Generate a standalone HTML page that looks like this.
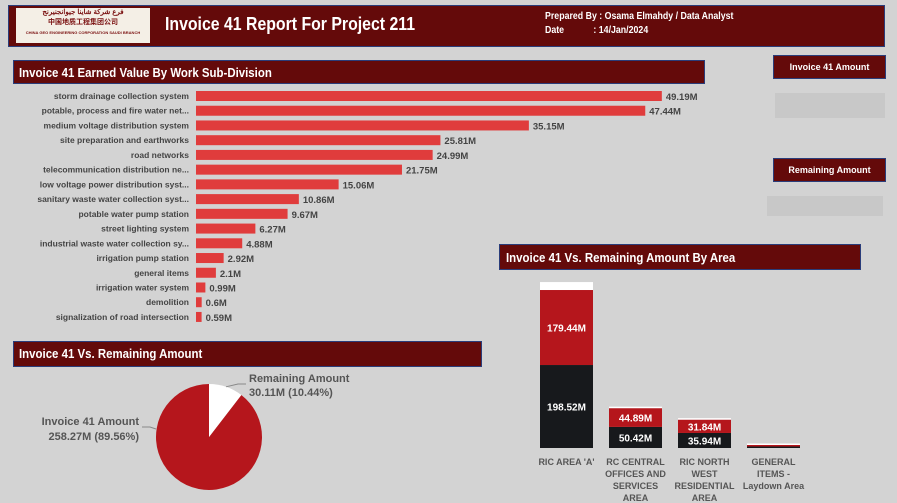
<!DOCTYPE html>
<html><head><meta charset="utf-8">
<style>
body{margin:0;width:897px;height:503px;background:#d3d3d3;font-family:"Liberation Sans","Noto Sans CJK SC",sans-serif;overflow:hidden;position:relative}
.box{position:absolute;background:#640a0a;border:1px solid #2a3d7a;color:#fff;font-weight:bold;box-sizing:border-box}
.nar{display:inline-block;transform:scaleX(0.88);transform-origin:left center;white-space:nowrap}
</style></head><body>
<div class="box" style="left:8px;top:5px;width:877px;height:42px;"></div>
<div style="position:absolute;left:16px;top:8px;width:134px;height:35px;background:#f4efe6;font-size:7px;color:#7a1010;text-align:center;line-height:10px;font-weight:bold;overflow:hidden">فرع شركة شاينا جيوانجنيرنج<br>中国地质工程集团公司<br><span style="font-size:4px;line-height:6px">CHINA GEO ENGINEERING CORPORATION SAUDI BRANCH</span></div>
<div style="position:absolute;left:165px;top:14px;color:#fff;font-size:18px;font-weight:bold"><span class="nar">Invoice 41 Report For Project 211</span></div>
<div style="position:absolute;left:545px;top:10px;color:#fff;font-size:10px;font-weight:bold;line-height:14px"><span class="nar">Prepared By : Osama Elmahdy /  Data Analyst</span><br><span class="nar">Date&nbsp;&nbsp;&nbsp;&nbsp;&nbsp;&nbsp;&nbsp;&nbsp;&nbsp;&nbsp;&nbsp;&nbsp;: 14/Jan/2024</span></div>
<div class="box" style="left:13px;top:60px;width:692px;height:24px;padding:4px 5px;font-size:13px"><span class="nar">Invoice 41 Earned Value By Work Sub-Division</span></div>
<div class="box" style="left:773px;top:55px;width:113px;height:24px;font-size:9px;text-align:center;line-height:22px">Invoice 41 Amount</div>
<div style="position:absolute;left:775px;top:93px;width:110px;height:25px;background:#c8c8c8"></div>
<div class="box" style="left:773px;top:158px;width:113px;height:24px;font-size:9px;text-align:center;line-height:22px">Remaining Amount</div>
<div style="position:absolute;left:767px;top:196px;width:116px;height:20px;background:#c8c8c8"></div>
<div class="box" style="left:13px;top:341px;width:469px;height:26px;padding:4px 5px;font-size:13px"><span class="nar">Invoice 41 Vs. Remaining Amount</span></div>
<div class="box" style="left:499px;top:244px;width:362px;height:26px;padding:5px 6px;font-size:13px"><span class="nar">Invoice 41 Vs. Remaining Amount By Area</span></div>
<svg id="svg" width="897" height="503" style="position:absolute;left:0;top:0" font-family="Liberation Sans, sans-serif"></svg>
<script>
const categories=["storm drainage collection system","potable, process and fire water net...","medium voltage distribution system","site preparation and earthworks","road networks","telecommunication distribution ne...","low voltage power distribution syst...","sanitary waste water collection syst...","potable water pump station","street lighting system","industrial waste water collection sy...","irrigation pump station","general items","irrigation water system","demolition","signalization of road intersection"];
const values=[49.19,47.44,35.15,25.81,24.99,21.75,15.06,10.86,9.67,6.27,4.88,2.92,2.1,0.99,0.6,0.59];
const pieLabels=["Invoice 41 Amount","Remaining Amount"];
const pieValues=[258.27,30.11];
const areas=[["RIC AREA 'A'"],["RC CENTRAL","OFFICES AND","SERVICES","AREA"],["RIC NORTH","WEST","RESIDENTIAL","AREA"],["GENERAL","ITEMS -","Laydown Area"]];
const invoiceByArea=[198.52,50.42,35.94,0.5];
const remainingByArea=[179.44,44.89,31.84,0.5];
const otherByArea=[19,3,2.5,0.5];
const NS="http://www.w3.org/2000/svg",svg=document.getElementById('svg');
function mk(t,a,txt){const e=document.createElementNS(NS,t);for(const k in a)e.setAttribute(k,a[k]);if(txt!=null)e.textContent=txt;svg.appendChild(e);return e;}
const x0=196,xs=v=>v*9.47,yb=i=>90+i*14.73;
categories.forEach((c,i)=>{
 const l=mk('text',{x:189,y:yb(i)+9,'text-anchor':'end','font-size':8.5,fill:'#444','font-weight':'bold'},c);
 
 
 const r=mk('rect',{x:x0,y:yb(i)+1,width:xs(values[i]),height:10,fill:'#e03c3c'});
 
 
 const v=mk('text',{x:x0+xs(values[i])+4,y:yb(i)+10,'font-size':9.5,fill:'#444','font-weight':'bold'},values[i]+'M');
 
 
});
const cx=209,cy=437,R=53,tot=pieValues[0]+pieValues[1];
const fr=pieValues[1]/tot,a=fr*2*Math.PI;
const ex=cx+R*Math.sin(a),ey=cy-R*Math.cos(a);
const s1=mk('path',{d:`M${cx},${cy} L${ex},${ey} A${R},${R} 0 1 1 ${cx},${cy-R} Z`,fill:'#b5161c'});


const s2=mk('path',{d:`M${cx},${cy} L${cx},${cy-R} A${R},${R} 0 0 1 ${ex},${ey} Z`,fill:'#fff'});


mk('polyline',{points:`${cx+R*Math.sin(a/2)},${cy-R*Math.cos(a/2)} 238,384 246,384`,stroke:'#888',fill:'none'});
mk('polyline',{points:`142,427 150,427 156,429`,stroke:'#888',fill:'none'});
const pct=v=>(v/tot*100).toFixed(2)+'%';
const t1=mk('text',{x:249,y:382,'font-size':11,fill:'#555','font-weight':'bold'},pieLabels[1]);


mk('text',{x:249,y:396,'font-size':11,fill:'#555','font-weight':'bold'},pieValues[1]+'M ('+pct(pieValues[1])+')');
const t2=mk('text',{x:139,y:425,'font-size':11,fill:'#555','font-weight':'bold','text-anchor':'end'},pieLabels[0]);


mk('text',{x:139,y:440,'font-size':11,fill:'#555','font-weight':'bold','text-anchor':'end'},pieValues[0]+'M ('+pct(pieValues[0])+')');
const base=448,ys=v=>Math.max(v*0.418,1.5),bx=i=>540+i*69,bw=53;
areas.forEach((lbls,i)=>{
 let y=base;
 const h1=ys(invoiceByArea[i]);y-=h1;
 const b1=mk('rect',{x:bx(i),y:y,width:bw,height:h1,fill:'#17191c'});
 
 
 if(h1>10)mk('text',{x:bx(i)+bw/2,y:y+h1/2+4,'text-anchor':'middle','font-size':10,fill:'#fff','font-weight':'bold'},invoiceByArea[i]+'M');
 const h2=ys(remainingByArea[i]);y-=h2;
 const b2=mk('rect',{x:bx(i),y:y,width:bw,height:h2,fill:'#b5161c'});
 
 
 if(h2>10)mk('text',{x:bx(i)+bw/2,y:y+h2/2+4,'text-anchor':'middle','font-size':10,fill:'#fff','font-weight':'bold'},remainingByArea[i]+'M');
 const h3=ys(otherByArea[i]);y-=h3;
 mk('rect',{x:bx(i),y:y,width:bw,height:h3,fill:'#fff'});
 lbls.forEach((l,j)=>{const t=mk('text',{x:bx(i)+bw/2,y:465+j*12,'text-anchor':'middle','font-size':9,fill:'#555','font-weight':'bold'},l);
 
 });
});
</script>
</body></html>
